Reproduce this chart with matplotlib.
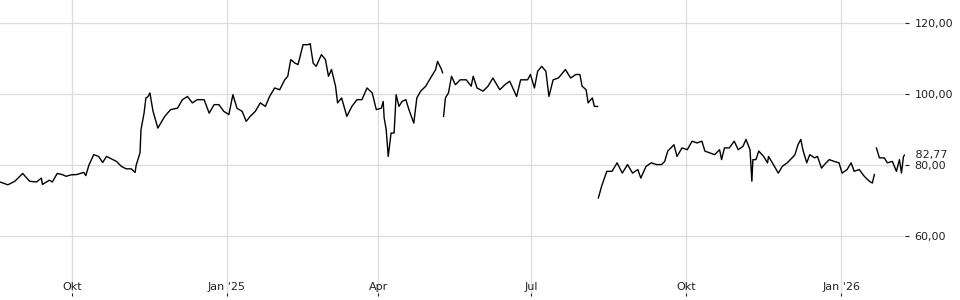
import numpy as np
import pandas as pd
import matplotlib
matplotlib.use("Agg")
import matplotlib.pyplot as plt
import matplotlib.transforms as mtransforms

# price series (day offset from 2024-10-01, price)
start = pd.Timestamp("2024-10-01")
day_offset = [
    -42.8, -38.1, -34.0, -29.3, -25.2, -21.1, -18.2, -17.6, -13.5, -11.7,
    -8.8, -5.9, -3.5, -0.6, 2.9, 7.0, 8.2, 10.0, 12.9, 15.8,
    18.2, 20.5, 23.4, 26.4, 29.3, 32.2, 35.2, 37.5, 38.1, 40.4,
    41.0, 42.8, 43.9, 45.1, 46.3, 48.1, 51.0, 55.1, 58.6, 62.7,
    65.6, 68.6, 71.5, 74.4, 78.5, 81.5, 84.4, 87.3, 90.2, 93.2,
    95.6, 98.0, 101.1, 103.5, 105.9, 108.9, 111.9, 114.9, 117.4, 120.4,
    123.4, 126.4, 128.2, 130.0, 132.5, 134.3, 137.3, 140.3, 141.5, 143.3,
    145.1, 148.2, 150.6, 152.4, 154.2, 156.6, 157.8, 160.2, 163.3, 166.3,
    169.3, 172.3, 175.3, 178.4, 180.8, 183.8, 184.9, 185.5, 186.7, 187.9,
    189.6, 191.4, 192.6, 194.3, 196.1, 198.4, 200.2, 203.1, 204.9, 207.2,
    210.2, 211.9, 213.7, 216.1, 217.2, 219.6, 220.2, 220.5, 220.8, 221.9,
    223.7, 225.5, 227.8, 230.7, 234.3, 237.2, 238.4, 240.7, 244.2, 247.2,
    250.1, 254.2, 257.2, 260.1, 261.9, 264.2, 266.6, 270.7, 272.4, 274.8,
    276.7, 279.1, 281.6, 283.4, 285.9, 289.0, 293.2, 296.3, 299.4, 301.8,
    303.1, 305.5, 306.7, 309.2, 310.4, 312.3, 312.5, 312.8, 314.7, 317.8,
    320.9, 323.9, 327.0, 330.1, 333.1, 336.2, 338.0, 341.1, 344.2, 347.3,
    350.3, 352.2, 354.0, 357.7, 359.5, 362.5, 365.6, 368.5, 371.4, 374.3,
    376.1, 379.0, 381.9, 384.8, 386.0, 387.7, 390.6, 393.5, 395.9, 398.8,
    400.5, 402.9, 404.0, 404.6, 406.4, 408.1, 411.0, 413.3, 413.9, 416.8,
    419.7, 422.1, 425.0, 427.9, 429.6, 431.4, 433.1, 434.3, 436.6, 438.4,
    441.3, 443.0, 445.4, 447.1, 450.0, 452.9, 455.8, 457.6, 460.6, 463.0,
    464.8, 467.8, 470.8, 473.8, 475.6, 476.8, 477.4, 478.0, 479.8, 482.7,
    484.5, 487.5, 489.9, 491.7, 492.9, 494.1, 494.7,
]
price = [
    75.2, 74.4, 75.4, 77.6, 75.4, 75.2, 76.3, 74.5, 75.7, 75.2,
    77.6, 77.3, 76.8, 77.2, 77.3, 77.9, 77.0, 79.9, 82.9, 82.4,
    80.7, 82.4, 81.7, 81.0, 79.6, 78.9, 78.9, 77.9, 79.9, 83.4,
    90.0, 94.6, 98.9, 99.2, 100.3, 95.2, 90.4, 93.7, 95.6, 96.0,
    98.4, 99.3, 97.5, 98.4, 98.4, 94.6, 97.0, 97.0, 95.1, 94.2,
    99.8, 96.0, 95.1, 92.3, 93.7, 95.1, 97.5, 96.5, 99.3, 101.7,
    101.2, 104.0, 105.0, 109.7, 108.7, 108.3, 113.9, 113.9, 114.2, 108.7,
    107.8, 111.1, 109.7, 105.0, 106.9, 102.2, 97.5, 98.9, 93.7, 96.5,
    98.4, 98.4, 101.7, 100.3, 95.6, 96.0, 97.9, 93.2, 90.0, 82.4,
    89.0, 89.0, 99.8, 96.5, 97.9, 98.4, 95.6, 91.8, 98.9, 100.8,
    102.2, 103.6, 105.0, 106.9, 109.2, 106.9, 106.0, np.nan, 93.7, 98.9,
    100.3, 105.0, 102.6, 104.0, 104.0, 102.2, 105.0, 101.7, 100.8, 102.2,
    104.5, 101.2, 102.6, 103.6, 101.7, 99.3, 104.0, 104.0, 105.5, 101.7,
    106.4, 107.8, 106.4, 99.3, 104.0, 104.5, 106.9, 104.5, 105.5, 105.5,
    102.2, 101.2, 97.5, 98.9, 96.5, 96.5, np.nan, 70.7, 74.0, 78.2,
    78.2, 80.6, 77.7, 80.1, 77.7, 78.7, 76.3, 79.6, 80.6, 80.1,
    80.1, 81.0, 83.9, 85.7, 82.4, 84.8, 84.3, 86.7, 86.2, 86.7,
    83.9, 83.4, 82.9, 84.3, 81.5, 84.8, 84.8, 86.7, 84.3, 85.3,
    87.2, 84.3, 75.4, 81.5, 81.5, 83.9, 82.4, 80.6, 82.4, 80.1,
    77.7, 79.6, 80.6, 82.0, 82.9, 85.7, 87.2, 84.3, 80.6, 82.9,
    82.0, 82.4, 79.1, 80.1, 81.5, 81.0, 80.6, 77.7, 78.7, 80.6,
    78.2, 78.7, 76.8, 75.4, 74.9, 77.3, np.nan, 84.8, 82.0, 82.0,
    80.6, 81.0, 78.2, 81.5, 77.7, 82.4, 82.77,
]

last_price = 82.77
tick_dates = ["2024-10-01", "2025-01-01", "2025-04-01", "2025-07-01", "2025-10-01", "2026-01-01"]
tick_labels = ["Okt", "Jan '25", "Apr", "Jul", "Okt", "Jan '26"]
y_ticks = [60, 80, 100, 120]

dates = start + pd.to_timedelta(day_offset, unit="D")

fig = plt.figure(figsize=(9.6, 3.0), dpi=100)
ax = fig.add_axes([0.0, 7 / 300, 905 / 960, 293 / 300])

ax.plot(dates, price, color="black", lw=1.0)

ax.set_xlim(start + pd.Timedelta(days=-42.8), start + pd.Timedelta(days=495))
ax.set_ylim(43.9, 126.5)

ax.set_xticks(pd.to_datetime(tick_dates))
ax.set_xticklabels(tick_labels)
ax.set_yticks(y_ticks)
ax.set_yticklabels([f"{v:.2f}".replace(".", ",") for v in y_ticks])

ax.yaxis.tick_right()
ax.tick_params(axis="y", direction="out", length=3, width=0.8, pad=4,
               labelsize=8, colors="#222222")
ax.tick_params(axis="x", direction="out", length=2.5, width=0.8, pad=-10.5,
               labelsize=8, colors="#222222")

for s in ax.spines.values():
    s.set_visible(False)
ax.grid(True, color="#dcdcdc", lw=0.9)
ax.set_axisbelow(True)

# last price label on the right axis
trans = mtransforms.blended_transform_factory(ax.transAxes, ax.transData)
ax.text(1.0, last_price, "   " + f"{last_price:.2f}".replace(".", ","),
        transform=trans, ha="left", va="center", fontsize=8,
        color="#222222", clip_on=False)

fig.savefig("out.png", dpi=100)
